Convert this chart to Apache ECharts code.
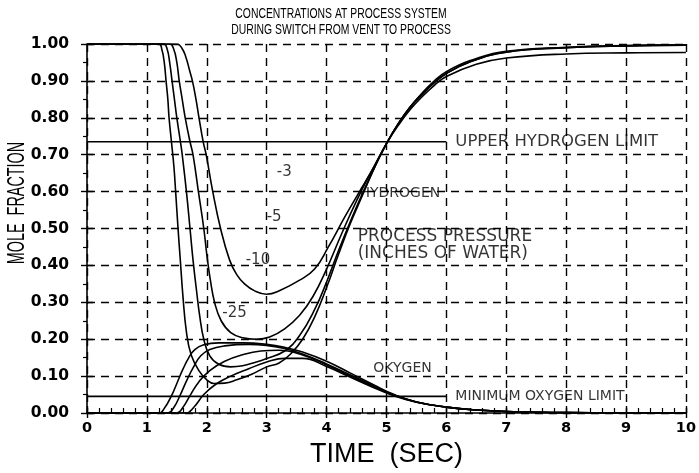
<!DOCTYPE html>
<html>
<head>
<meta charset="utf-8">
<script src="https://cdn.jsdelivr.net/npm/echarts@6/dist/echarts.min.js"></script>
<style>
html, body { margin: 0; padding: 0; background: #fff; }
#chart { width: 699px; height: 473px; }
</style>
</head>
<body>
<div id="chart"></div>
<script>
// hydrogen mole fraction, one curve per process pressure (in falling order)
const hydrogen1 = [[0,1],[1.2,1],[1.25,0.985],[1.29,0.95],[1.32,0.9],[1.35,0.85],[1.37,0.8],[1.41,0.735],[1.45,0.67],[1.48,0.6],[1.52,0.5],[1.56,0.41],[1.6,0.32],[1.66,0.22],[1.74,0.157],[1.88,0.112],[2.0,0.09],[2.12,0.08],[2.3,0.081],[2.5,0.09],[2.75,0.105],[3.0,0.125],[3.2,0.135],[3.4,0.16],[3.6,0.2],[3.8,0.26],[4.0,0.34],[4.2,0.43],[4.4,0.515],[4.6,0.59],[4.8,0.665],[5.0,0.73],[5.2,0.785],[5.4,0.83],[5.6,0.865],[5.8,0.895],[6.0,0.92],[6.4,0.952],[7.0,0.978],[8.0,0.99],[9.0,0.995],[10,0.997]];
const hydrogen2 = [[0,1],[1.28,1],[1.34,0.985],[1.38,0.95],[1.42,0.9],[1.46,0.85],[1.5,0.8],[1.56,0.735],[1.59,0.7],[1.66,0.6],[1.72,0.5],[1.77,0.415],[1.83,0.33],[1.88,0.265],[1.95,0.2],[2.05,0.155],[2.2,0.132],[2.4,0.125],[2.6,0.128],[2.8,0.137],[3.0,0.148],[3.3,0.168],[3.55,0.21],[3.8,0.28],[4.0,0.355],[4.2,0.44],[4.4,0.52],[4.6,0.595],[4.8,0.665],[5.0,0.73],[5.2,0.785],[5.4,0.83],[5.6,0.865],[5.8,0.895],[6.0,0.92],[6.4,0.952],[7.0,0.978],[8.0,0.99],[9.0,0.995],[10,0.997]];
const hydrogen3 = [[0,1],[1.38,1],[1.45,0.985],[1.5,0.95],[1.54,0.9],[1.59,0.85],[1.64,0.8],[1.72,0.735],[1.77,0.7],[1.86,0.6],[1.95,0.5],[2.0,0.43],[2.06,0.36],[2.13,0.3],[2.24,0.25],[2.4,0.218],[2.6,0.204],[2.83,0.2],[3.05,0.206],[3.3,0.228],[3.55,0.265],[3.77,0.315],[4.0,0.39],[4.25,0.485],[4.5,0.575],[4.75,0.655],[5.0,0.73],[5.2,0.785],[5.4,0.83],[5.6,0.868],[5.8,0.9],[6.0,0.925],[6.4,0.955],[7.0,0.98],[8.0,0.991],[9.0,0.996],[10,0.998]];
const hydrogen4 = [[0,1],[1.5,1],[1.58,0.99],[1.65,0.965],[1.71,0.93],[1.76,0.9],[1.82,0.85],[1.87,0.8],[1.94,0.735],[1.99,0.7],[2.1,0.6],[2.23,0.5],[2.38,0.415],[2.5,0.375],[2.63,0.35],[2.8,0.331],[3.0,0.322],[3.22,0.332],[3.55,0.36],[3.8,0.39],[4.03,0.45],[4.3,0.53],[4.55,0.6],[4.8,0.67],[5.0,0.73],[5.2,0.78],[5.4,0.823],[5.6,0.858],[5.8,0.888],[6.0,0.912],[6.5,0.945],[7.0,0.962],[8.0,0.973],[9.0,0.976],[10,0.977]];

// oxygen mole fraction
const oxygen1 = [[0,0],[1.2,0],[1.3,0.015],[1.42,0.05],[1.5,0.08],[1.6,0.118],[1.7,0.15],[1.8,0.172],[1.95,0.185],[2.2,0.19],[2.6,0.19],[3.0,0.186],[3.3,0.178],[3.6,0.165],[4.0,0.14],[4.4,0.108],[4.8,0.075],[5.1,0.052],[5.5,0.03],[6.0,0.016],[6.5,0.008],[7.0,0.004],[8.0,0.001],[10,0]];
const oxygen2 = [[0,0],[1.35,0],[1.45,0.015],[1.56,0.05],[1.67,0.09],[1.78,0.125],[1.9,0.155],[2.05,0.172],[2.3,0.182],[2.7,0.186],[3.0,0.183],[3.3,0.175],[3.6,0.16],[4.0,0.133],[4.4,0.103],[4.8,0.072],[5.1,0.05],[5.5,0.03],[6.0,0.016],[6.5,0.008],[7.0,0.004],[8.0,0.001],[10,0]];
const oxygen3 = [[0,0],[1.5,0],[1.6,0.015],[1.73,0.05],[1.87,0.085],[2.05,0.115],[2.3,0.14],[2.6,0.158],[2.9,0.168],[3.2,0.17],[3.6,0.157],[4.0,0.13],[4.4,0.1],[4.8,0.07],[5.1,0.05],[5.5,0.03],[6.0,0.016],[6.5,0.008],[7.0,0.004],[8.0,0.001],[10,0]];
const oxygen4 = [[0,0],[1.65,0],[1.78,0.015],[1.95,0.05],[2.15,0.078],[2.4,0.1],[2.7,0.12],[3.0,0.138],[3.3,0.148],[3.6,0.148],[4.0,0.126],[4.4,0.097],[4.8,0.068],[5.1,0.048],[5.5,0.029],[6.0,0.016],[6.5,0.008],[7.0,0.004],[8.0,0.001],[10,0]];

// limit lines
const upperHydrogenLimit = [[0,0.735],[6,0.735]];
const minOxygenLimit = [[0,0.045],[6,0.045]];

// text notes: [x, y, text]
const notes = [
  [6.15, 0.735, 'UPPER HYDROGEN LIMIT'],
  [6.15, 0.045, 'MINIMUM OXYGEN LIMIT'],
  [4.55, 0.595, 'HYDROGEN'],
  [4.52, 0.477, 'PROCESS PRESSURE'],
  [4.52, 0.433, '(INCHES OF WATER)'],
  [4.78, 0.122, 'OKYGEN'],
  [3.17, 0.652, '-3'],
  [3.0, 0.531, '-5'],
  [2.65, 0.415, '-10'],
  [2.26, 0.272, '-25']
];
const noteSizes = [16.5, 14, 14, 17, 17, 14, 15, 15, 15, 15];

const titleLines = ['CONCENTRATIONS AT PROCESS SYSTEM', 'DURING SWITCH FROM VENT TO PROCESS'];

function curve(data) {
  return {
    type: 'line',
    data: data,
    showSymbol: false,
    smooth: 0.45,
    lineStyle: { color: '#000', width: 1.6 },
    silent: true,
    z: 3
  };
}
function straight(data) {
  return {
    type: 'line',
    data: data,
    showSymbol: false,
    lineStyle: { color: '#000', width: 1.6 },
    silent: true,
    z: 3
  };
}

const chart = echarts.init(document.getElementById('chart'));
const option = {
  animation: false,
  backgroundColor: '#fff',
  grid: { left: 87, right: 9, top: 44, bottom: 60 },
  xAxis: [
    {
      type: 'value', min: 0, max: 10, interval: 1,
      axisLine: { show: true, onZero: false, lineStyle: { color: '#000', width: 1.6 } },
      axisTick: { show: true, inside: true, length: 7, lineStyle: { color: '#000', width: 1.4 } },
      minorTick: { show: true, splitNumber: 5, length: 5, lineStyle: { color: '#000', width: 1.2 } },
      axisLabel: { color: '#000', fontFamily: 'DejaVu Sans', fontWeight: 'bold', fontSize: 14.5, margin: 8 },
      splitLine: { show: true, lineStyle: { color: '#000', type: [8, 6], width: 1.4 } },
      name: 'TIME  (SEC)',
      nameLocation: 'middle',
      nameGap: 24,
      nameTextStyle: { color: '#000', fontFamily: 'Liberation Sans', fontSize: 27, fontWeight: 'normal' }
    },
    {
      type: 'value', min: 0, max: 10, interval: 1, position: 'bottom',
      axisLine: { show: false },
      axisTick: { show: true, inside: false, length: 5, lineStyle: { color: '#000', width: 1.4 } },
      axisLabel: { show: false },
      splitLine: { show: false }
    }
  ],
  yAxis: [
    {
      type: 'value', min: 0, max: 1, interval: 0.1,
      axisLine: { show: true, onZero: false, lineStyle: { color: '#000', width: 1.6 } },
      axisTick: { show: true, inside: false, length: 6, lineStyle: { color: '#000', width: 1.4 } },
      minorTick: { show: true, splitNumber: 2, length: 4, lineStyle: { color: '#000', width: 1.2 } },
      axisLabel: {
        color: '#000', fontFamily: 'DejaVu Sans', fontWeight: 'bold', fontSize: 15.5, margin: 18,
        formatter: v => v.toFixed(2)
      },
      splitLine: { show: true, lineStyle: { color: '#000', type: [8, 6], width: 1.4 } }
    },
    {
      type: 'value', min: 0, max: 1, interval: 0.1, position: 'left',
      axisLine: { show: false },
      axisTick: { show: true, inside: true, length: 6, lineStyle: { color: '#000', width: 1.4 } },
      axisLabel: { show: false },
      splitLine: { show: false }
    }
  ],
  graphic: [
    {
      type: 'text', x: 341, y: 14, scaleX: 0.67,
      style: { text: titleLines[0], fill: '#000', font: "15.5px 'Liberation Sans', sans-serif", align: 'center', verticalAlign: 'middle' }
    },
    {
      type: 'text', x: 341, y: 30, scaleX: 0.67,
      style: { text: titleLines[1], fill: '#000', font: "15.5px 'Liberation Sans', sans-serif", align: 'center', verticalAlign: 'middle' }
    },
    {
      type: 'text', x: 17, y: 203, rotation: Math.PI / 2, scaleX: 0.6,
      style: { text: 'MOLE  FRACTION', fill: '#000', font: "24px 'Liberation Sans', sans-serif", align: 'center', verticalAlign: 'middle' }
    }
  ],
  series: [
    curve(hydrogen1), curve(hydrogen2), curve(hydrogen3), curve(hydrogen4),
    curve(oxygen1), curve(oxygen2), curve(oxygen3), curve(oxygen4),
    straight(upperHydrogenLimit), straight(minOxygenLimit),
    {
      type: 'scatter',
      symbolSize: 0,
      silent: true,
      z: 5,
      data: notes.map((n, i) => ({
        value: [n[0], n[1]],
        label: {
          show: true, position: 'right', distance: 0,
          formatter: n[2],
          color: '#000',
          fontFamily: 'DejaVu Sans',
          fontSize: noteSizes[i]
        }
      }))
    }
  ]
};
chart.setOption(option);
</script>
</body>
</html>
